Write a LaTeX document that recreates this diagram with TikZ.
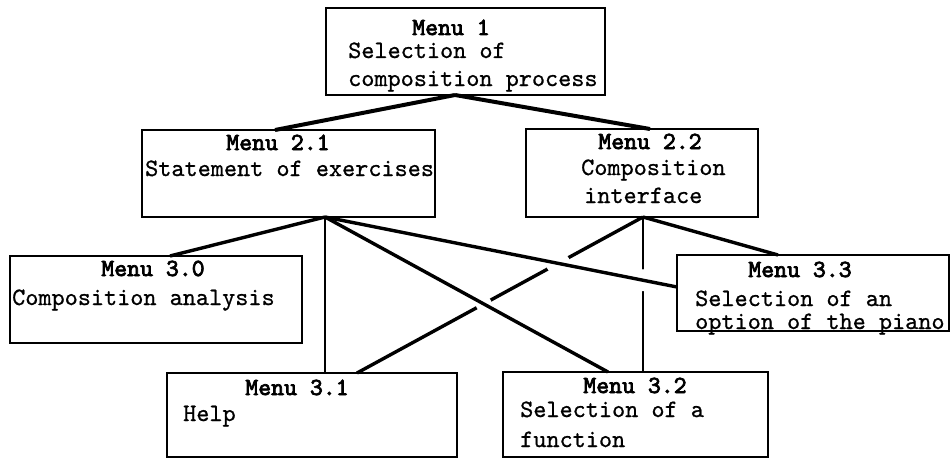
\documentclass[tikz,border=0pt]{standalone}
\usepackage{fontspec}
\newfontface\headface{lmmono10-regular.otf}[FakeBold=3]
\newfontface\bodyface{lmmono10-regular.otf}[FakeBold=0.8]
\usetikzlibrary{intersections,calc}
\begin{document}
\begin{tikzpicture}[x=1pt,y=-1pt,
  box/.style={draw, line width=2.8pt, inner sep=0pt},
  head/.style={font=\headface\fontsize{24.6}{28}\selectfont, inner sep=0pt, anchor=base},
  body/.style={font=\bodyface\fontsize{25}{28}\selectfont, inner sep=0pt, anchor=base west},
  link/.style={line width=3.4pt},
  post/.style={line width=2pt},
  gap/.style={fill=white, draw=none}]
\useasboundingbox (0,0) rectangle (952,460);

% menu boxes
\node[box, minimum width=279pt, minimum height=87pt] (m1)  at (465.5,51.5) {};
\node[box, minimum width=293pt, minimum height=87pt] (m21) at (288.5,173.5) {};
\node[box, minimum width=232pt, minimum height=88pt] (m22) at (642,173) {};
\node[box, minimum width=292pt, minimum height=87pt] (m30) at (156,299.5) {};
\node[box, minimum width=272pt, minimum height=76pt] (m33) at (813,293) {};
\node[box, minimum width=290pt, minimum height=84pt] (m31) at (312,415) {};
\node[box, minimum width=265pt, minimum height=85pt] (m32) at (635.5,414.5) {};

% box labels
\node[head] (t1)  at (451,35) {Menu 1};
\node[body] (t1a) at (348,58) {Selection of};
\node[body] (t1b) at (348,86) {composition process};

\node[head] (t21)  at (278,150) {Menu 2.1};
\node[body] (t21a) at (145,176) {Statement of exercises};

\node[head] (t22)  at (650,149) {Menu 2.2};
\node[body] (t22a) at (581,175) {Composition};
\node[body] (t22b) at (584,203) {interface};

\node[head] (t30)  at (153,276) {Menu 3.0};
\node[body] (t30a) at (12,305) {Composition analysis};

\node[head] (t33)  at (800,277) {Menu 3.3};
\node[body] (t33a) at (695,306) {Selection of an};
\node[body] (t33b) at (695,329) {option of the piano};

\node[head] (t31)  at (297,395) {Menu 3.1};
\node[body] (t31a) at (183,421) {Help};

\node[head] (t32)  at (635,393) {Menu 3.2};
\node[body] (t32a) at (520,417) {Selection of a};
\node[body] (t32b) at (520,447) {function};

% attachment points on the box borders
\coordinate (m1-foot)  at (455,95);
\coordinate (m21-head) at (275,130);
\coordinate (m22-head) at (650,129);
\coordinate (m21-foot) at (325,217);
\coordinate (m22-foot) at (643,217);
\coordinate (m30-head) at (170,256);
\coordinate (m31-head) at (357,373);
\coordinate (m32-head) at (608,372);
\coordinate (m33-head) at (778,255);
\coordinate (m33-side) at (677,287);

% links that pass underneath
\draw[link, name path=under1] (m22-foot) -- (m31-head);
\draw[post, name path=under2] (m22-foot) -- (m22-foot |- m32.north);

% links that pass over them
\path[name path=over1] (m21-foot) -- (m33-side);
\path[name path=over2] (m21-foot) -- (m32-head);

% break the lower links at the crossings
\fill[gap, name intersections={of=under1 and over1, name=xa}] (xa-1) circle (12pt);
\fill[gap, name intersections={of=under1 and over2, name=xb}] (xb-1) circle (8pt);
\fill[gap, name intersections={of=under2 and over1, name=xc}] (xc-1) circle (11pt);

\draw[link] (m21-foot) -- (m33-side);
\draw[link] (m21-foot) -- (m32-head);

% remaining links
\draw[link, line width=4pt] (m1-foot) -- (m21-head);
\draw[link, line width=4pt] (m1-foot) -- (m22-head);
\draw[link] (m21-foot) -- (m30-head);
\draw[post] (m21-foot) -- (m21-foot |- m31.north);
\draw[link] (m22-foot) -- (m33-head);
\end{tikzpicture}
\end{document}
